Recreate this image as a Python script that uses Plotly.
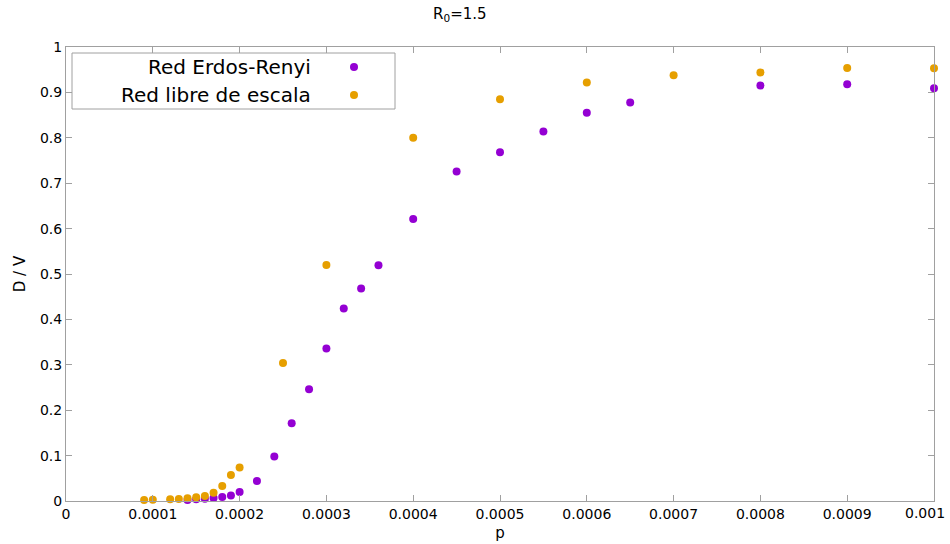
import plotly.graph_objects as go

# Red Erdos-Renyi
er_p = [0.00014, 0.00015, 0.00016, 0.00017, 0.00018, 0.00019, 0.0002, 0.00022, 0.00024,
        0.00026, 0.00028, 0.0003, 0.00032, 0.00034, 0.00036, 0.0004, 0.00045, 0.0005,
        0.00055, 0.0006, 0.00065, 0.0008, 0.0009, 0.001]
er_v = [0.002, 0.004, 0.005, 0.0066, 0.009, 0.012, 0.02, 0.044, 0.098,
        0.171, 0.246, 0.336, 0.424, 0.468, 0.519, 0.621, 0.726, 0.768,
        0.814, 0.855, 0.878, 0.915, 0.918, 0.909]

# Red libre de escala
sf_p = [0.00009, 0.0001, 0.00012, 0.00013, 0.00014, 0.00015, 0.00016, 0.00017, 0.00018,
        0.00019, 0.0002, 0.00025, 0.0003, 0.0004, 0.0005, 0.0006, 0.0007, 0.0008,
        0.0009, 0.001]
sf_v = [0.002, 0.003, 0.004, 0.0045, 0.006, 0.008, 0.011, 0.018, 0.033,
        0.057, 0.074, 0.304, 0.520, 0.800, 0.885, 0.922, 0.938, 0.944,
        0.954, 0.953]

x_ticks = [0, 0.0001, 0.0002, 0.0003, 0.0004, 0.0005, 0.0006, 0.0007, 0.0008, 0.0009, 0.001]
x_labels = ["0", "0.0001", "0.0002", "0.0003", "0.0004", "0.0005", "0.0006", "0.0007",
            "0.0008", "0.0009", "0.001"]
y_ticks = [0, 0.1, 0.2, 0.3, 0.4, 0.5, 0.6, 0.7, 0.8, 0.9, 1]
y_labels = ["0", "0.1", "0.2", "0.3", "0.4", "0.5", "0.6", "0.7", "0.8", "0.9", "1"]

series_names = ["Red Erdos-Renyi", "Red libre de escala"]
colors = ["#9400d3", "#e69f00"]

FONT = "DejaVu Sans"
W, H = 950, 544
ML, MR, MT, MB = 66, 16, 47, 43

pw = W - ML - MR
ph = H - MT - MB


def px_to_paper_x(px):
    return (px - ML) / pw


def px_to_paper_y(py):
    return (H - MB - py) / ph


# the last x label is drawn separately, nudged left so it fits inside the canvas
x_text = list(x_labels[:-1]) + [""]

fig = go.Figure()
fig.add_trace(go.Scatter(x=er_p, y=er_v, mode="markers", name=series_names[0],
                         marker=dict(color=colors[0], size=8, line=dict(width=0)),
                         cliponaxis=False))
fig.add_trace(go.Scatter(x=sf_p, y=sf_v, mode="markers", name=series_names[1],
                         marker=dict(color=colors[1], size=8, line=dict(width=0)),
                         cliponaxis=False))

axis_common = dict(showgrid=False, zeroline=False, showline=True, linecolor="#a0a0a0",
                   linewidth=1, mirror="ticks", ticks="inside", ticklen=6,
                   tickcolor="#a0a0a0", tickwidth=1, automargin=False,
                   ticklabeloverflow="allow",
                   tickfont=dict(family=FONT, size=14, color="black"))

fig.update_xaxes(range=[0, 0.001 * 1.0000001], tickvals=x_ticks, ticktext=x_text,
                 title=dict(text="p", font=dict(family=FONT, size=15, color="black"),
                            standoff=6), **axis_common)
fig.update_yaxes(range=[0, 1.0000001], tickvals=y_ticks, ticktext=y_labels,
                 title=dict(text="D / V", font=dict(family=FONT, size=15, color="black"),
                            standoff=10), **axis_common)

shapes = [dict(type="rect", xref="paper", yref="paper",
               x0=px_to_paper_x(72), x1=px_to_paper_x(395),
               y0=px_to_paper_y(109), y1=px_to_paper_y(53),
               line=dict(color="#a0a0a0", width=1), fillcolor="white", layer="above")]
annotations = []
leg_rows = [67, 95]
for name, col, ry in zip(series_names, colors, leg_rows):
    annotations.append(dict(text=name, xref="paper", yref="paper",
                            x=px_to_paper_x(313), y=px_to_paper_y(ry),
                            xanchor="right", yanchor="middle", showarrow=False,
                            font=dict(family=FONT, size=20, color="black")))
    shapes.append(dict(type="circle", xref="paper", yref="paper",
                       xsizemode="pixel", ysizemode="pixel",
                       xanchor=px_to_paper_x(354), yanchor=px_to_paper_y(ry),
                       x0=-4, x1=4, y0=-4, y1=4,
                       fillcolor=col, line=dict(width=0), layer="above"))

annotations.append(dict(text=x_labels[-1], xref="x", yref="paper",
                        x=x_ticks[-1], y=px_to_paper_y(513), xshift=-9,
                        xanchor="center", yanchor="middle", showarrow=False,
                        font=dict(family=FONT, size=14, color="black")))

annotations.append(dict(text="R<sub>0</sub>=1.5", xref="paper", yref="paper",
                        x=px_to_paper_x(460), y=px_to_paper_y(15),
                        xanchor="center", yanchor="middle", showarrow=False,
                        font=dict(family=FONT, size=15, color="black")))

fig.update_layout(width=W, height=H, margin=dict(l=ML, r=MR, t=MT, b=MB),
                  plot_bgcolor="white", paper_bgcolor="white", showlegend=False,
                  shapes=shapes, annotations=annotations,
                  font=dict(family=FONT, color="black"))

fig.write_html("out.html")
